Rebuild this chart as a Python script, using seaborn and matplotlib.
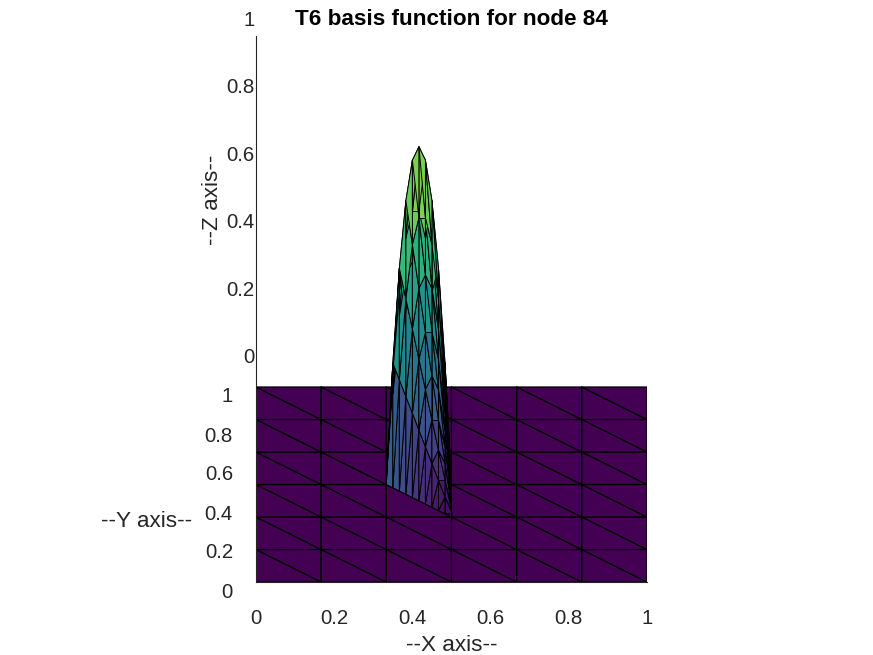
import numpy as np
import matplotlib
matplotlib.use('Agg')
import matplotlib.pyplot as plt
import matplotlib.transforms as mtransforms
from matplotlib.collections import PolyCollection
from matplotlib.colors import Normalize
import seaborn as sns

# mesh: 6 x 6 squares, each cut into two T6 triangles (13 x 13 nodes)
x_grid = [0, 1/6, 2/6, 3/6, 4/6, 5/6, 1]
y_grid = [0, 1/6, 2/6, 3/6, 4/6, 5/6, 1]
node = 84          # 1-based, numbered along x first
n_sub = 10         # sampling of each element for the surface
elev = 30          # view(0, 30)
clim = (0, 1.25)

tick_vals = [0, 0.2, 0.4, 0.6, 0.8, 1]
tick_text = ['0', '0.2', '0.4', '0.6', '0.8', '1']
z_label_base = 1.15   # where MATLAB put the z tick labels (in y units)

sns.set_style('white')
plt.rcParams['font.family'] = ['Liberation Sans', 'DejaVu Sans']
cmap = sns.color_palette('viridis', as_cmap=True)
norm = Normalize(*clim)
axis_col = '#262626'

# node position
nx, ny = len(x_grid) - 1, len(y_grid) - 1
row, col = divmod(node - 1, 2 * nx + 1)
node_xy = np.array([col / (2 * nx), row / (2 * ny)])

# elements: lower (sw, se, nw) and upper (ne, nw, se)
elements = []
for j in range(ny):
    for i in range(nx):
        sw = (x_grid[i], y_grid[j]); se = (x_grid[i + 1], y_grid[j])
        nw = (x_grid[i], y_grid[j + 1]); ne = (x_grid[i + 1], y_grid[j + 1])
        elements.append(np.array([sw, se, nw]))
        elements.append(np.array([ne, nw, se]))


def basis_on(tri, L):
    for k in range(3):
        if np.allclose(tri[k], node_xy):
            return L[:, k] * (2 * L[:, k] - 1)
    for k in range(3):
        m = (k + 1) % 3
        if np.allclose((tri[k] + tri[m]) / 2, node_xy):
            return 4 * L[:, k] * L[:, m]
    return None


# reference sub-triangulation
idx, pts = {}, []
for i in range(n_sub + 1):
    for j in range(n_sub + 1 - i):
        idx[i, j] = len(pts)
        pts.append((i / n_sub, j / n_sub))
subtris = []
for i in range(n_sub):
    for j in range(n_sub - i):
        subtris.append((idx[i, j], idx[i + 1, j], idx[i, j + 1]))
        if i + j < n_sub - 1:
            subtris.append((idx[i + 1, j], idx[i + 1, j + 1], idx[i, j + 1]))
subtris = np.array(subtris)
rs = np.array(pts)
L = np.column_stack([1 - rs.sum(1), rs[:, 0], rs[:, 1]])

e = np.radians(elev)


def project(x, y, z):
    return np.column_stack([x, y + z / np.tan(e)])


flat_polys, bump_polys, bump_vals, bump_depth = [], [], [], []
for tri in elements:
    phi = basis_on(tri, L)
    if phi is None:
        flat_polys.append(project(tri[:, 0], tri[:, 1], np.zeros(3)))
        continue
    xy = L @ tri
    P = project(xy[:, 0], xy[:, 1], phi)
    for t in subtris:
        bump_polys.append(P[t])
        bump_vals.append(phi[t].max())
        bump_depth.append((-xy[t, 1] * np.cos(e) + phi[t] * np.sin(e)).mean())

order = np.argsort(bump_depth)
bump_polys = [bump_polys[k] for k in order]
bump_vals = np.array(bump_vals)[order]

fig = plt.figure(figsize=(8.73, 6.55), dpi=100)
ax = fig.add_axes([256 / 873, 73 / 655, 391 / 873, 546 / 655])

ax.add_collection(PolyCollection(flat_polys, facecolors=cmap(norm(0)),
                                 edgecolors='black', linewidths=0.9, zorder=1))
ax.add_collection(PolyCollection(bump_polys, array=bump_vals, cmap=cmap, norm=norm,
                                 edgecolors='black', linewidths=0.7, zorder=2,
                                 clip_on=False))

ax.set_xlim(0, 1)
ax.set_ylim(0, 2.8)
for s in ['top', 'right']:
    ax.spines[s].set_visible(False)
for s in ['left', 'bottom']:
    ax.spines[s].set_color(axis_col)
    ax.spines[s].set_linewidth(0.8)

ax.set_xticks(tick_vals, tick_text)
ax.set_yticks(tick_vals, tick_text)
ax.tick_params(direction='out', length=8, width=0.8, colors=axis_col, labelsize=14.7)
ax.tick_params(axis='x', pad=11.4)
ax.tick_params(axis='y', pad=8.6)
shift = mtransforms.ScaledTranslation(0, -0.08, fig.dpi_scale_trans)
for lab in ax.get_yticklabels():
    lab.set_transform(lab.get_transform() + shift)

zt = mtransforms.blended_transform_factory(ax.transAxes, ax.transData)
for zv, zs in zip(tick_vals, tick_text):
    ax.text(-0.003, z_label_base + zv / np.tan(e), zs, ha='right', va='center',
            fontsize=14.7, color=axis_col, transform=zt)

ax.set_xlabel('--X axis--', fontsize=16.2, color=axis_col, va='center')
ax.xaxis.set_label_coords(0.5, -0.117)
ax.set_ylabel('--Y axis--', fontsize=16.2, color=axis_col, rotation=0,
              ha='center', va='center')
ax.yaxis.set_label_coords(-0.279, 0.110)
ax.text(-0.1125, 0.70, '--Z axis--', fontsize=16.2, color=axis_col, rotation=90,
        ha='center', va='center', transform=ax.transAxes)
ax.set_title('T6 basis function for node 84', fontsize=16.2, fontweight='bold',
             color='black', y=1.031, pad=0, va='center')

fig.savefig('out.png', dpi=100)
